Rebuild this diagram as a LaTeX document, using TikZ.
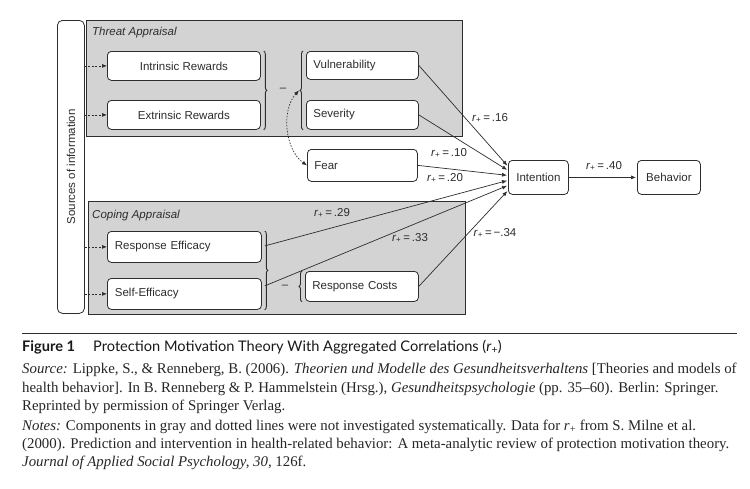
\documentclass[tikz,border=0pt]{standalone}
\usepackage{fontspec}
\setmainfont{Liberation Serif}
\setsansfont{Liberation Sans}
\newfontfamily\capfont{Lato}
\usetikzlibrary{arrows.meta, decorations.pathreplacing, calc}
\definecolor{gfill}{RGB}{211,211,211}
\definecolor{lc}{RGB}{45,45,45}
\begin{document}
\begin{tikzpicture}[x=1pt, y=-1pt,
  diag/.style={font=\sffamily\fontsize{11.5}{13}\selectfont, text=lc},
  wbox/.style={diag, draw=lc, fill=white, rounded corners=4pt, line width=0.8pt, inner sep=0pt, anchor=north west},
  lbox/.style={wbox, inner xsep=7pt, align=left},
  gbox/.style={draw=lc, fill=gfill, line width=0.9pt, inner sep=0pt, anchor=north west},
  srcbox/.style={diag, draw=lc, fill=white, rounded corners=5pt, line width=0.8pt, inner sep=0pt, anchor=north west},
  tip/.style={-{Latex[length=5pt,width=4pt]}},
  mainarrow/.style={tip, draw=lc, line width=0.7pt, shorten >=1pt},
  dasharrow/.style={tip, draw=lc, line width=0.7pt, dash pattern=on 2pt off 1.5pt},
  dotarrow/.style={{Latex[length=5pt,width=4pt]}-{Latex[length=5pt,width=4pt]}, draw=lc, line width=0.7pt, dash pattern=on 1.5pt off 1.5pt},
  bracestyle/.style={draw=lc, line width=0.9pt, decorate, decoration={brace, amplitude=3pt}},
  lab/.style={diag, inner sep=0pt},
  grp/.style={diag, font=\sffamily\itshape\fontsize{11.5}{13}\selectfont, inner sep=0pt, anchor=west},
  captxt/.style={anchor=base west, inner sep=0pt, font=\fontsize{14.85}{17}\selectfont, text=black!85},
  captitle/.style={anchor=base west, inner sep=0pt, font=\capfont\fontsize{14.6}{17}\selectfont, text=black!90}
]
\fill[white] (0,0) rectangle (750,488);
\useasboundingbox (0,0) rectangle (750,488);

% sources box
\node[srcbox, minimum width=27, minimum height=293] (src) at (57,20) {};
\node[diag, rotate=90, inner sep=0pt] (srctxt) at (src.center) {Sources of information};

% group boxes
\node[gbox, minimum width=376, minimum height=116] (threat) at (86,20) {};
\node[gbox, minimum width=377, minimum height=113] (coping) at (88,201) {};
\node[grp] (threatlab) at (92,33) {Threat Appraisal};
\node[grp] (copinglab) at (92,216) {Coping Appraisal};

% boxes
\node[wbox, minimum width=153, minimum height=29] (ir) at (107,51) {Intrinsic Rewards};
\node[wbox, minimum width=153, minimum height=29] (er) at (107,100) {Extrinsic Rewards};
\node[lbox, text width=98, minimum height=28] (vul) at (306,51) {Vulnerability};
\node[lbox, text width=98, minimum height=29] (sev) at (306,100) {Severity};
\node[lbox, text width=96, minimum height=32] (fear) at (307,149) {Fear};
\node[lbox, text width=139, inner xsep=7.5pt, minimum height=31] (re) at (107,231) {Response Efficacy};
\node[lbox, text width=139, inner xsep=7.5pt, minimum height=31] (se) at (107,278) {Self-Efficacy};
\node[lbox, text width=99, minimum height=30] (rc) at (305,271) {Response Costs};
\node[wbox, minimum width=60, minimum height=34] (int) at (508,160) {Intention};
\node[wbox, minimum width=63, minimum height=34] (beh) at (637,160) {Behavior};

% braces
\draw[bracestyle] ($(ir.north east)+(3,0)$) -- ($(er.south east)+(3,0)$);
\draw[bracestyle] ($(sev.south west)+(-3,0)$) -- ($(vul.north west)+(-3,0)$);
\draw[bracestyle] ($(re.north east)+(3,0)$) -- ($(se.south east)+(3,0)$);
\draw[bracestyle] ($(rc.south west)+(-3,0)$) -- ($(rc.north west)+(-3,0)$);
\node[diag, inner sep=0pt] (minus1) at (283,90) {–};
\node[diag, inner sep=0pt] (minus2) at (285,287) {–};

% dashed input arrows
\draw[dasharrow] (src.east |- ir.west) -- (ir.west);
\draw[dasharrow] (src.east |- er.west) -- (er.west);
\draw[dasharrow] (src.east |- re.west) -- (re.west);
\draw[dasharrow] (src.east |- se.west) -- (se.west);

% dotted fear link
\coordinate (vtip) at ($(vul.north west)!0.5!(sev.south west)+(-7,0)$);
\draw[dotarrow] (vtip) .. controls (281,110) and (285,150) .. (fear.west);

% main arrows
\draw[mainarrow] (vul.east) -- ($(int.west)+(0,-11)$);
\draw[mainarrow] (sev.east) -- ($(int.west)+(0,-7)$);
\draw[mainarrow] (fear.east) -- ($(int.west)+(0,-2)$);
\draw[mainarrow] ($(re.east)+(3,-1)$) -- ($(int.west)+(0,3)$);
\draw[mainarrow] ($(se.east)+(3,-8)$) -- ($(int.west)+(0,8)$);
\draw[mainarrow] (rc.east) -- ($(int.west)+(0,13)$);
\draw[mainarrow] (int.east) -- (beh.west);

% labels
\node[lab] (l16) at (490,118) {\textit{r}\textsubscript{+}\,=\,.16};
\node[lab] (l10) at (449,153) {\textit{r}\textsubscript{+}\,=\,.10};
\node[lab] (l20) at (445,178) {\textit{r}\textsubscript{+}\,=\,.20};
\node[lab] (l29) at (332,213) {\textit{r}\textsubscript{+}\,=\,.29};
\node[lab] (l33) at (410,238) {\textit{r}\textsubscript{+}\,=\,.33};
\node[lab] (l34) at (495,233) {\textit{r}\textsubscript{+}\,=\,−.34};
\node[lab] (l40) at (604,166) {\textit{r}\textsubscript{+}\,=\,.40};

% caption
\draw[lc, line width=0.9pt] (22,333) -- (737,333);
\node[captitle, font=\capfont\bfseries\fontsize{14.6}{17}\selectfont] (figno) at (22,351) {Figure 1};
\node[captitle] (figtitle) at (93,351) {Protection Motivation Theory With Aggregated Correlations (\textit{r}\textsubscript{+})};
\node[captxt] (c1) at (22,373) {\textit{Source:} Lippke, S., \& Renneberg, B. (2006). \textit{Theorien und Modelle des Gesundheitsverhaltens} [Theories and models of};
\node[captxt] (c2) at (22,392) {health behavior]. In B. Renneberg \& P. Hammelstein (Hrsg.), \textit{Gesundheitspsychologie} (pp. 35–60). Berlin: Springer.};
\node[captxt] (c3) at (22,410) {Reprinted by permission of Springer Verlag.};
\node[captxt] (c4) at (22,430) {\textit{Notes:} Components in gray and dotted lines were not investigated systematically. Data for \textit{r}\textsubscript{+} from S. Milne et al.};
\node[captxt] (c5) at (22,448) {(2000). Prediction and intervention in health-related behavior: A meta-analytic review of protection motivation theory.};
\node[captxt] (c6) at (22,466) {\textit{Journal of Applied Social Psychology, 30,} 126f.};
\end{tikzpicture}
\end{document}
